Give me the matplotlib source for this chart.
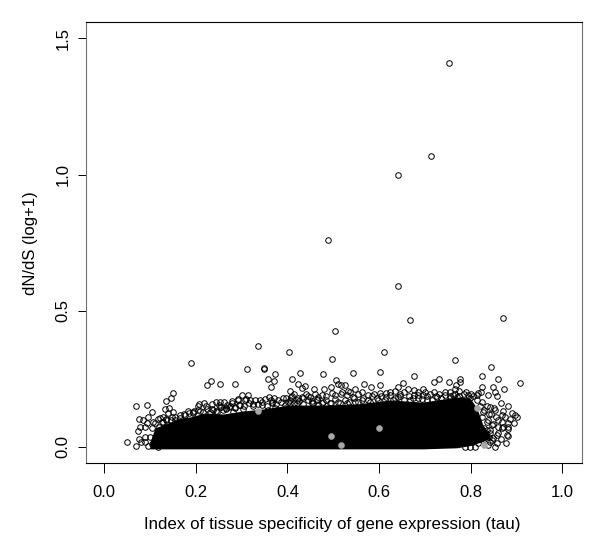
import numpy as np
import matplotlib
matplotlib.use('Agg')
import matplotlib.pyplot as plt

plt.rcParams['font.family'] = ['Liberation Sans', 'DejaVu Sans']

# (tau, dN/dS)
outliers = [(.7526, 1.411), (.713, 1.068), (.641, .998), (.488, .759), (.641, .590), (.667, .465),
            (.870, .473), (.504, .425), (.189, .307), (.336, .370), (.403, .348), (.611, .348),
            (.766, .318), (.497, .322), (.844, .293), (.908, .234)]

left_cluster = [(.150, .197), (.1457, .178), (.1347, .168), (.070, .148), (.094, .152), (.1035, .1286),
                (.132, .140), (.142, .142), (.151, .1275), (.075, .102), (.095, .108), (.085, .098),
                (.078, .071), (.0736, .059), (.090, .071), (.0758, .027), (.049, .017), (.070, .004),
                (.089, .037), (.0998, .0345), (.080, .018), (.096, .0026), (.1035, .010), (.1216, .104),
                (.1107, .086), (.120, .071), (.0926, .086), (.1035, .0676), (.1347, .098), (.147, .108),
                (.107, .092), (.118, .102), (.1275, .11), (.1397, .1227), (.1288, .092), (.0889, .0184),
                (.1107, .0125), (.118, 0), (.1653, .104), (.1762, .1165), (.1943, .1227), (.1544, .098)]

top_rim = [(.3116, .285), (.3487, .290), (.3487, .287), (.372, .266), (.358, .250), (.370, .240),
           (.364, .218), (.286, .230), (.253, .230), (.2337, .240), (.224, .227), (.4266, .272),
           (.411, .250), (.4236, .230), (.438, .224), (.432, .2145), (.458, .211), (.4055, .2046),
           (.1835, .132), (.2068, .157), (.2177, .1594), (.193, .1286), (.209, .132), (.243, .165),
           (.2526, .163), (.2615, .164), (.278, .169), (.2367, .135), (.2657, .141), (.2854, .147),
           (.291, .174), (.301, .189), (.313, .190), (.307, .1716), (.319, .1716), (.324, .156),
           (.296, .153), (.3437, .153), (.3596, .1815), (.371, .180), (.3655, .165), (.3967, .178),
           (.4077, .1815), (.4236, .178), (.432, .1815), (.4448, .186), (.4528, .169), (.467, .1815),
           (.4017, .165), (.4775, .267), (.5437, .2697), (.602, .2755), (.6755, .2597), (.8254, .2597),
           (.861, .25), (.730, .25), (.7206, .2366), (.752, .2366), (.7766, .2476), (.7766, .2388),
           (.768, .2267), (.7657, .212), (.506, .246), (.495, .220), (.479, .211), (.5096, .230),
           (.5168, .2267), (.5255, .2267), (.5474, .212), (.5328, .2057), (.567, .231), (.5817, .2193),
           (.5627, .201), (.602, .2267), (.652, .234), (.6406, .220), (.6638, .213), (.6755, .208),
           (.6965, .211), (.6456, .1925), (.602, .196), (.615, .196), (.676, .19), (.6965, .19),
           (.711, .1936), (.744, .202), (.762, .19), (.8166, .196), (.826, .218), (.8493, .218),
           (.8537, .202), (.872, .211), (.8568, .186), (.837, .19), (.8225, .1998), (.2926, .1716),
           (.3035, .1374), (.2817, .1286), (.26, .135), (.2308, .1286), (.2454, .1286), (.273, .147),
           (.2526, .147), (.3655, .1605), (.3727, .141), (.358, .135), (.3945, .141), (.42, .1594),
           (.4055, .1594), (.4965, .198), (.5037, .19), (.518, .1936), (.5365, .202), (.5437, .1837),
           (.478, .165), (.449, .1837), (.4637, .174), (.4345, .178), (.42, .1716), (.4928, .1594),
           (.511, .165), (.5292, .1594), (.5474, .165), (.562, .1716), (.58, .165), (.598, .1716),
           (.6129, .1716), (.631, .1716), (.642, .1837), (.4528, .1594), (.4672, .153), (.6675, .1716),
           (.6856, .178), (.7258, .1837), (.7803, .1716), (.7985, .178), (.8131, .19), (.7548, .178),
           (.7694, .1837), (.704, .1716)]

# circles packed along the upper edge of the cloud, estimated from the crops
edge_row = [(.125, .09), (.135, .10), (.145, .098), (.155, .11), (.165, .115), (.175, .12), (.185, .125),
            (.195, .13), (.205, .135), (.215, .128), (.225, .138), (.235, .14), (.245, .132), (.255, .145),
            (.265, .138), (.275, .15), (.285, .142), (.295, .155), (.305, .148), (.315, .16), (.325, .15),
            (.335, .158), (.345, .165), (.355, .15), (.365, .172), (.375, .158), (.385, .165), (.395, .155),
            (.405, .17), (.415, .162), (.425, .168), (.435, .158), (.445, .172), (.455, .16), (.465, .17),
            (.475, .16), (.485, .172), (.495, .162), (.505, .175), (.515, .16), (.525, .172), (.535, .165),
            (.545, .178), (.555, .165), (.565, .18), (.575, .172), (.585, .185), (.595, .178), (.605, .185),
            (.615, .182), (.625, .19), (.635, .178), (.645, .185), (.655, .172), (.665, .185), (.675, .178),
            (.685, .19), (.695, .175), (.705, .185), (.715, .172), (.725, .188), (.735, .178), (.745, .19),
            (.755, .185), (.765, .195), (.775, .185), (.785, .195), (.795, .19), (.805, .185), (.815, .17),
            (.825, .165), (.835, .15), (.82, .15), (.83, .135), (.84, .12), (.825, .11), (.835, .09),
            (.83, .07), (.825, .05), (.835, .06), (.83, .03), (.84, .035), (.82, .03), (.815, .05), (.81, .10)]

upper_row = [(.205, .15), (.222, .148), (.235, .158), (.25, .155), (.268, .155), (.28, .16), (.31, .175),
             (.33, .17), (.34, .17), (.35, .175), (.38, .17), (.39, .18), (.41, .185), (.415, .195),
             (.44, .195), (.46, .195), (.475, .19), (.485, .185), (.52, .2), (.53, .19), (.555, .195),
             (.575, .19), (.59, .195), (.625, .2), (.635, .205), (.655, .2), (.685, .2), (.70, .2),
             (.72, .2), (.73, .195), (.755, .2), (.775, .205), (.79, .2), (.80, .195)]

right_cluster = [(.866, .159), (.882, .1495), (.851, .141), (.870, .132), (.8895, .125), (.8967, .1165),
                 (.9004, .108), (.887, .1006), (.8946, .088), (.881, .086), (.8677, .1165), (.855, .108),
                 (.8493, .0834), (.882, .064), (.871, .071), (.881, .0404), (.860, .049), (.8493, .031),
                 (.866, .028), (.877, .0125), (.8568, .0147), (.853, 0), (.8384, .006), (.846, .0246),
                 (.842, .0614), (.860, .071), (.8437, .120), (.8384, .098), (.8677, .092), (.875, .110),
                 (.842, .147), (.853, .135), (.8275, .1286), (.860, .098), (.882, .0735), (.846, .08),
                 (.8677, .0676), (.8568, .043), (.8786, .043), (.842, .049), (.7985, 0), (.8094, 0),
                 (.7876, 0), (.8166, .0125), (.842, .018)]

grey_points = [(.335, .131), (.495, .040), (.516, .0073), (.600, .069), (.8144, .142), (.829, .0073)]

# the solid black part of the cloud, too dense to read single points
solid_tau = [.0998, .1107, .1325, .1653, .1871, .2199, .2592, .3028, .3465, .4055, .4775, .5518,
             .6238, .6959, .7701, .7985, .8138, .8269, .8422]
solid_top = [.017, .069, .083, .105, .109, .124, .120, .131, .1385, .153, .153, .157,
             .1716, .164, .1826, .179, .142, .080, .043]
solid_low = [-.008, -.008, -.008, -.008, -.008, -.008, -.008, -.008, -.008, -.008, -.008, -.008,
             -.008, -.008, -.004, .004, .012, .020, .030]

x_ticks = [0.0, 0.2, 0.4, 0.6, 0.8, 1.0]
y_ticks = [0.0, 0.5, 1.0, 1.5]

fig = plt.figure(figsize=(6, 5.52), dpi=100)
ax = fig.add_axes([85.7 / 600, 1 - 463.3 / 552, (582 - 85.7) / 600, (463.3 - 22) / 552])

ax.fill_between(solid_tau, solid_low, solid_top, color='black', lw=0)

pts = np.array(outliers + left_cluster + top_rim + edge_row + upper_row + right_cluster)
ax.plot(pts[:, 0], pts[:, 1], 'o', mfc='none', mec='black', ms=4.0, mew=0.7)

grey = np.array(grey_points)
ax.plot(grey[:, 0], grey[:, 1], 'o', mfc='#a6a6a6', mec='#a6a6a6', ms=4.4, mew=0.3)

ax.set_xlim(-0.0406, 1.0434)
ax.set_ylim(-0.061, 1.5603)
ax.set_xticks(x_ticks, ['%.1f' % t for t in x_ticks], fontsize=12)
ax.set_yticks(y_ticks, ['%.1f' % t for t in y_ticks], fontsize=12, rotation=90, va='center')
ax.tick_params(axis='x', length=7.2, width=0.7, pad=8.5)
ax.tick_params(axis='y', length=6, width=0.7, pad=4.8)

ax.spines['left'].set_color('#707070')
ax.spines['right'].set_color('#707070')
for s in ax.spines.values():
    s.set_linewidth(0.8)

fig.text(332.5 / 600, 1 - 525 / 552, 'Index of tissue specificity of gene expression (tau)',
         fontsize=12.2, ha='center', va='center')
fig.text(30 / 600, 1 - 243 / 552, 'dN/dS (log+1)', fontsize=12, rotation=90, ha='center', va='center')

fig.savefig('out.png', dpi=100)
